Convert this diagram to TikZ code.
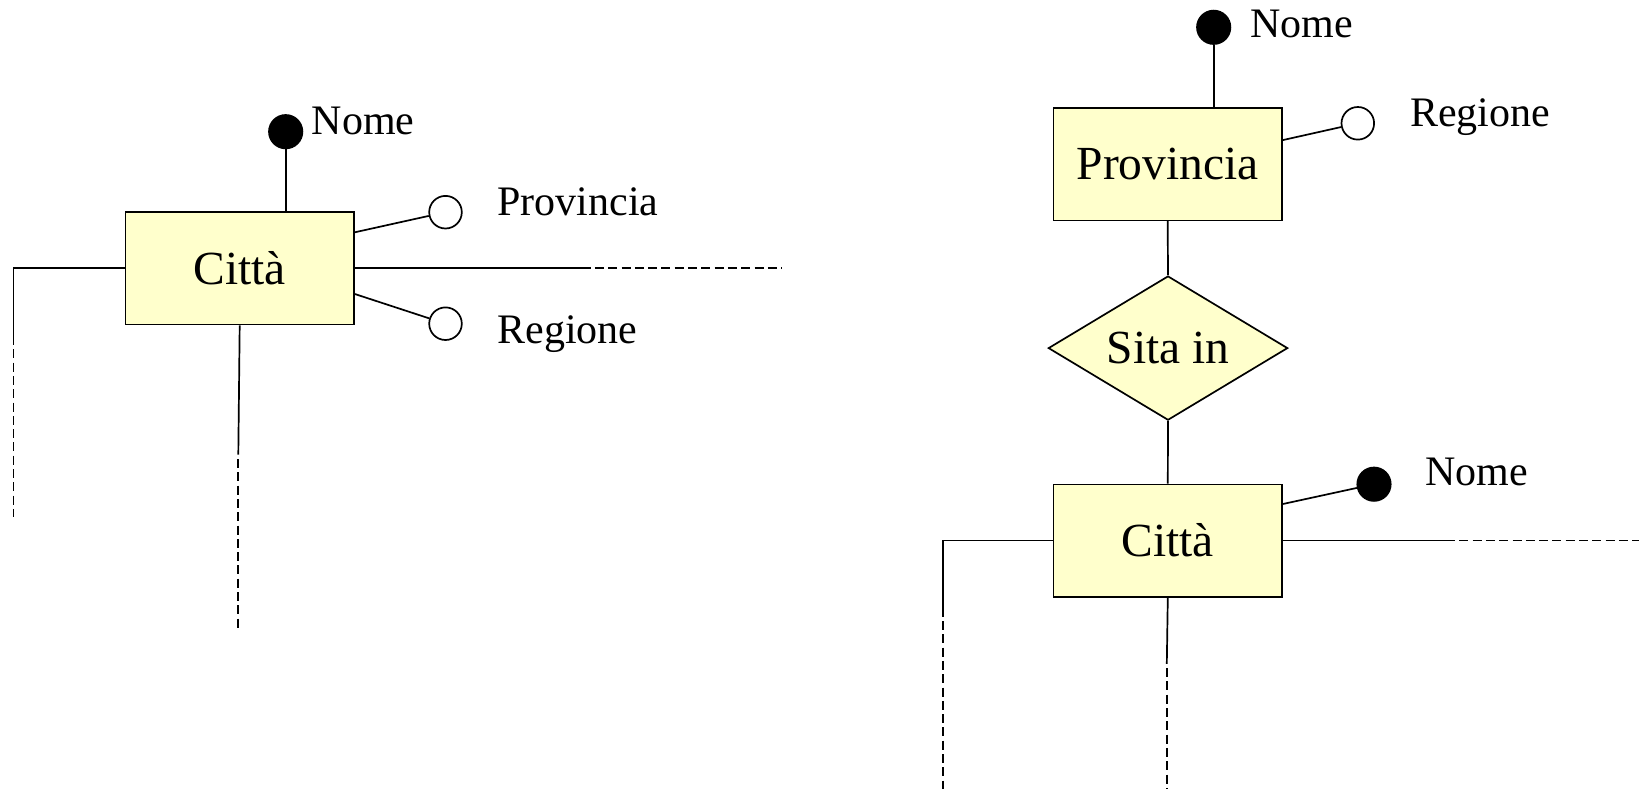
\documentclass[tikz,border=0pt]{standalone}
\usepackage{fontspec}
\setmainfont{Liberation Serif}
\usetikzlibrary{shapes.geometric}

\definecolor{entfill}{HTML}{FFFFCC}

\tikzset{
  erline/.style={line width=1.7pt, line cap=butt, line join=miter},
  entity/.style={erline, draw=black, fill=entfill, rectangle, inner sep=0pt,
    minimum width=228.5pt, minimum height=112.5pt, text height=31.4pt, text depth=0pt,
    font=\fontsize{47.5}{57}\selectfont},
  relation/.style={erline, draw=black, fill=entfill, diamond, aspect=1.66, inner sep=0pt,
    minimum width=239.4pt, minimum height=144.2pt, text height=31.4pt, text depth=0pt,
    font=\fontsize{47.5}{57}\selectfont},
  keyattr/.style={erline, draw=black, fill=black, circle, inner sep=0pt, minimum size=33.4pt},
  optattr/.style={erline, draw=black, fill=white, circle, inner sep=0pt, minimum size=32.6pt},
  attrlabel/.style={anchor=base west, inner sep=0pt, font=\fontsize{42}{50}\selectfont},
  % dashed continuation: begins with a gap right after the solid part
  dashline/.style={erline, dash pattern=on 9pt off 4.3pt, dash phase=9pt},
}

\begin{document}
\begin{tikzpicture}[x=1pt, y=-1pt]
  \useasboundingbox (0,0) rectangle (1639,789);

  % ---------- Città with its attributes ----------
  \node[entity] (c1) at (239.7,268.3) {Città};

  \node[keyattr] (c1nome) at (285.7,131.7) {};
  \node[attrlabel] (c1nomel) at (311.7,135) {Nome};
  \node[optattr] (c1prov) at (445.5,212.2) {};
  \node[attrlabel] (c1provl) at (497.3,215) {Provincia};
  \node[optattr] (c1reg) at (445.5,323.7) {};
  \node[attrlabel] (c1regl) at (497.3,343.3) {Regione};

  \draw[erline] (c1nome) -- (c1nome |- c1.north);
  \draw[erline] ([yshift=36pt]c1.east) -- (c1prov);
  \draw[erline] ([yshift=-25.7pt]c1.east) -- (c1reg);

  % open-ended links
  \coordinate (c1ra) at (590.6,268.3);
  \coordinate (c1rb) at (781.9,268.3);
  \draw[erline] (c1.east) -- (c1ra);
  \draw[dashline] (c1ra) -- (c1rb);

  \coordinate (c1la) at (13.6,268.3);
  \coordinate (c1lb) at (13.6,345);
  \coordinate (c1lc) at (13.6,517.4);
  \draw[erline] (c1.west) -- (c1la) -- (c1lb);
  \draw[dashline] (c1lb) -- (c1lc);

  \coordinate (c1ba) at (238.3,454.7);
  \coordinate (c1bb) at (238.3,629.3);
  \draw[erline] (c1.south) -- (c1ba);
  \draw[dashline] (c1ba) -- (c1bb);

  % ---------- Provincia -- Sita in -- Città ----------
  \node[entity] (prov) at (1167.7,164.1) {Provincia};
  \node[relation] (sita) at (1168,348.1) {Sita in};
  \node[entity] (c2) at (1167.8,540.6) {Città};

  \node[keyattr] (pnome) at (1213.7,27.3) {};
  \node[attrlabel] (pnomel) at (1250,37.3) {Nome};
  \node[optattr] (preg) at (1357.8,123.3) {};
  \node[attrlabel] (pregl) at (1410,126.7) {Regione};
  \node[keyattr] (c2nome) at (1374,484.2) {};
  \node[attrlabel] (c2nomel) at (1425,485) {Nome};

  \draw[erline] (pnome) -- (pnome |- prov.north);
  \draw[erline] ([yshift=24pt]prov.east) -- (preg);
  \draw[erline] (prov.south) -- (sita.north);
  \draw[erline] (sita.south) -- (c2.north);
  \draw[erline] ([yshift=36.6pt]c2.east) -- (c2nome);

  \coordinate (c2ra) at (1455,540.6);
  \coordinate (c2rb) at (1639,540.6);
  \draw[erline] (c2.east) -- (c2ra);
  \draw[dashline] (c2ra) -- (c2rb);

  \coordinate (c2la) at (942.9,540.6);
  \coordinate (c2lb) at (942.9,616.7);
  \coordinate (c2lc) at (942.9,789);
  \draw[erline] (c2.west) -- (c2la) -- (c2lb);
  \draw[dashline] (c2lb) -- (c2lc);

  \coordinate (c2ba) at (1166.8,663.8);
  \coordinate (c2bb) at (1166.8,789);
  \draw[erline] (c2.south) -- (c2ba);
  \draw[dashline] (c2ba) -- (c2bb);
\end{tikzpicture}
\end{document}
